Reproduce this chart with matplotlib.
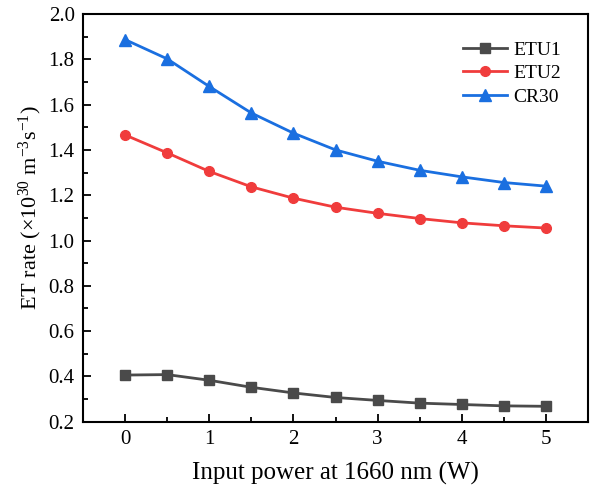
import matplotlib
matplotlib.use("Agg")
import matplotlib.pyplot as plt
from matplotlib.ticker import MultipleLocator

plt.rcParams['font.family'] = ['Liberation Serif', 'DejaVu Serif']
plt.rcParams['mathtext.fontset'] = 'custom'
plt.rcParams['mathtext.rm'] = 'Liberation Serif'
plt.rcParams['mathtext.it'] = 'Liberation Serif:italic'

power = [0, 0.5, 1, 1.5, 2, 2.5, 3, 3.5, 4, 4.5, 5]
etu1 = [0.406, 0.408, 0.383, 0.352, 0.327, 0.307, 0.294, 0.282, 0.276, 0.270, 0.268]
etu2 = [1.466, 1.387, 1.305, 1.237, 1.187, 1.147, 1.120, 1.097, 1.078, 1.065, 1.055]
cr30 = [1.887, 1.802, 1.680, 1.563, 1.474, 1.400, 1.350, 1.310, 1.281, 1.256, 1.240]

fig = plt.figure(figsize=(5.91, 4.93), dpi=100)
ax = fig.add_axes([0.1404, 0.1446, 0.8546, 0.827])

ax.plot(power, etu1, color='#4a4a4a', marker='s', ms=7, lw=2, label='ETU1')
ax.plot(power, etu2, color='#f03c3c', marker='o', ms=7, lw=2, label='ETU2')
ax.plot(power, cr30, color='#1a6fe0', marker='^', ms=8, lw=2, label='CR30')

ax.set_xlim(-0.5, 5.5)
ax.set_ylim(0.2, 2.0)
ax.xaxis.set_major_locator(MultipleLocator(1))
ax.xaxis.set_minor_locator(MultipleLocator(0.5))
ax.yaxis.set_major_locator(MultipleLocator(0.2))
ax.yaxis.set_minor_locator(MultipleLocator(0.1))
ax.tick_params(which='both', direction='in', width=1.3, labelsize=15)
ax.tick_params(which='major', length=6, pad=6)
ax.tick_params(which='minor', length=3.5)
for s in ax.spines.values():
    s.set_linewidth(1.5)

ax.set_xlabel('Input power at 1660 nm (W)', fontsize=18, labelpad=9)
ax.set_ylabel(r'ET rate ($\times$10$^{30}$ m$^{-3}$s$^{-1}$)', fontsize=16)
ax.yaxis.set_label_coords(-0.078, 0.525)

ax.legend(loc='upper right', frameon=False, fontsize=14, handlelength=2.3,
          handletextpad=0.3, labelspacing=0.3, borderaxespad=1.0)

fig.savefig('out.png', dpi=100)
